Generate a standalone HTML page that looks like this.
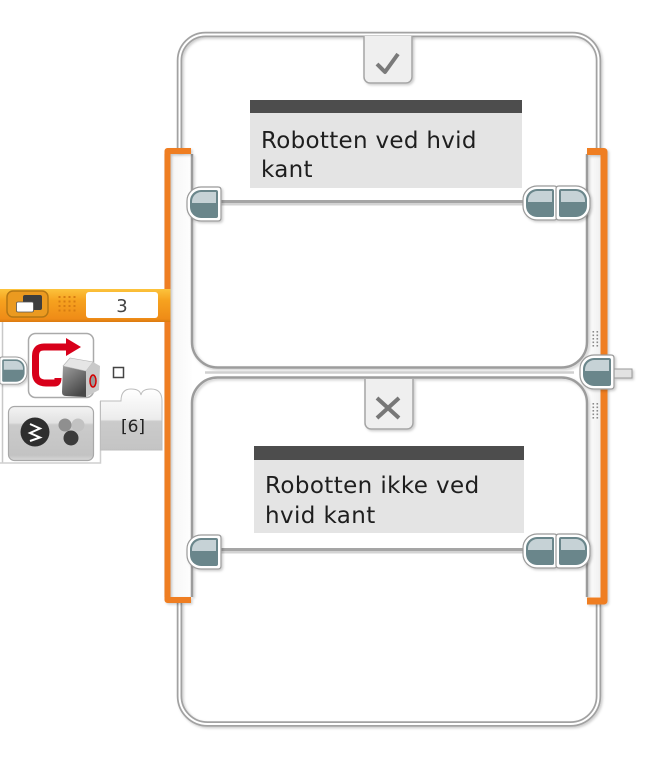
<!DOCTYPE html>
<html><head><meta charset="utf-8">
<style>
html,body{margin:0;padding:0;background:#fff;}
svg{display:block;}
text{font-family:"DejaVu Sans","Liberation Sans",sans-serif;}
</style></head><body>
<svg width="664" height="776" viewBox="0 0 664 776" xmlns="http://www.w3.org/2000/svg">
<defs>
 <filter id="ds" x="-20%" y="-20%" width="140%" height="140%"><feDropShadow dx="1.5" dy="1.5" stdDeviation="1.2" flood-color="#000" flood-opacity="0.2"/></filter>
 <linearGradient id="colL" x1="0" x2="1" y1="0" y2="0"><stop offset="0" stop-color="#f3f3f3"/><stop offset="1" stop-color="#fefefe"/></linearGradient>
 <linearGradient id="colR" x1="0" x2="1" y1="0" y2="0"><stop offset="0" stop-color="#fefefe"/><stop offset="1" stop-color="#f0f0f0"/></linearGradient>
 <linearGradient id="hdr" x1="0" x2="0" y1="0" y2="1"><stop offset="0" stop-color="#fcc33c"/><stop offset="0.35" stop-color="#f6a21f"/><stop offset="0.9" stop-color="#ef8c17"/><stop offset="1" stop-color="#db7a10"/></linearGradient>
 <linearGradient id="tabg" x1="0" x2="0" y1="0" y2="1"><stop offset="0" stop-color="#ffffff"/><stop offset="0.5" stop-color="#ececec"/><stop offset="0.53" stop-color="#cbcbcb"/><stop offset="1" stop-color="#c4c4c4"/></linearGradient>
 <linearGradient id="modeg" x1="0" x2="0" y1="0" y2="1"><stop offset="0" stop-color="#f3f3f3"/><stop offset="0.3" stop-color="#e2e2e2"/><stop offset="0.34" stop-color="#cbcbcb"/><stop offset="0.9" stop-color="#c3c3c3"/><stop offset="1" stop-color="#d8d8d8"/></linearGradient>
 <linearGradient id="sens" x1="0" x2="0.6" y1="0" y2="1"><stop offset="0" stop-color="#a0a0a0"/><stop offset="1" stop-color="#474747"/></linearGradient>
 <g id="plugL">
  <path d="M14,0 H31 Q34,0 34,3 V31 Q34,34 31,34 H14 A14,14 0 0 1 0,20 V14 A14,14 0 0 1 14,0 Z" fill="#fff" stroke="#9a9a9a" stroke-width="1.2"/>
  <path d="M14,3 H29 Q31,3 31,5 V29 Q31,31 29,31 H14 A11,11 0 0 1 3,20 V14 A11,11 0 0 1 14,3 Z" fill="#6b868b"/>
  <path d="M5,16 V14.5 A9.5,9.5 0 0 1 14.5,5 H29 V16 Z" fill="#c6d2d6"/>
 </g>
</defs>

<!-- bracket columns -->
<rect x="164" y="154" width="28" height="443" fill="url(#colL)"/>
<rect x="587" y="154" width="14" height="443" fill="url(#colR)"/>

<!-- outer frame -->
<g filter="url(#ds)">
 <path d="M179.5,152 V60.5 A26,26 0 0 1 205.5,34.5 H572.5 A26,26 0 0 1 598.5,60.5 V152" fill="none" stroke="#a2a2a2" stroke-width="5.5"/>
 <path d="M179.5,152 V60.5 A26,26 0 0 1 205.5,34.5 H572.5 A26,26 0 0 1 598.5,60.5 V152" fill="none" stroke="#fff" stroke-width="2"/>
 <path d="M179.5,602 V696 A28,28 0 0 0 207.5,724 H570.5 A28,28 0 0 0 598.5,696 V604" fill="none" stroke="#a2a2a2" stroke-width="5.5"/>
 <path d="M179.5,602 V696 A28,28 0 0 0 207.5,724 H570.5 A28,28 0 0 0 598.5,696 V604" fill="none" stroke="#fff" stroke-width="2"/>
</g>

<!-- inner case borders -->
<g filter="url(#ds)">
 <path d="M192,154 V342 A25.5,25.5 0 0 0 217.5,367.5 H561.5 A25.5,25.5 0 0 0 587,342 V154" fill="none" stroke="#9c9c9c" stroke-width="2.5"/>
 <path d="M192,597 V403 A25.5,25.5 0 0 1 217.5,377.5 H561.5 A25.5,25.5 0 0 1 587,403 V597" fill="none" stroke="#9c9c9c" stroke-width="2.5"/>
</g>
<path d="M205,372.5 H574" stroke="#d0d0d0" stroke-width="2.5"/>

<!-- sequence lines -->
<rect x="218" y="200" width="308" height="3" fill="#a5a5a5"/>
<rect x="218" y="203" width="308" height="2.5" fill="#d3d3d3"/>
<rect x="218" y="548" width="308" height="3" fill="#a5a5a5"/>
<rect x="218" y="551" width="308" height="2.5" fill="#d3d3d3"/>

<!-- tabs -->
<g filter="url(#ds)">
 <path d="M364,36 V77 A6,6 0 0 0 370,83 H406 A6,6 0 0 0 412,77 V36" fill="#efefef" stroke="#a5a5a5" stroke-width="1.5"/>
 <path d="M365,379 V423 A6,6 0 0 0 371,429 H407 A6,6 0 0 0 413,423 V379" fill="#efefef" stroke="#a5a5a5" stroke-width="1.5"/>
</g>
<path d="M377,64 L385,72 L398,54" fill="none" stroke="#7a7a7a" stroke-width="4" stroke-linejoin="round"/>
<path d="M377,398 L399,418 M399,398 L377,418" fill="none" stroke="#777" stroke-width="4"/>

<!-- comments -->
<rect x="250" y="100" width="272" height="13" fill="#4d4d4d"/>
<rect x="250" y="113" width="272" height="75" fill="#e4e4e4"/>
<text x="261" y="148" font-size="23" letter-spacing="0.3" fill="#1e1e1e">Robotten ved hvid</text>
<text x="261" y="177" font-size="23" letter-spacing="0.3" fill="#1e1e1e">kant</text>

<rect x="254" y="446" width="270" height="14" fill="#4d4d4d"/>
<rect x="254" y="460" width="270" height="73" fill="#e4e4e4"/>
<text x="265" y="493" font-size="23" letter-spacing="0.4" fill="#1e1e1e">Robotten ikke ved</text>
<text x="265" y="523" font-size="23" letter-spacing="0.4" fill="#1e1e1e">hvid kant</text>

<!-- orange brackets -->
<g filter="url(#ds)">
 <path d="M191,151 H167.5 V600 H191" fill="none" stroke="#ef7e22" stroke-width="6" stroke-linejoin="round"/>
 <path d="M587,151.5 H604 V601 H587" fill="none" stroke="#ef7e22" stroke-width="7" stroke-linejoin="round"/>
</g>

<!-- grip dots -->
<g fill="#8a8a8a">
 <rect x="592.5" y="331" width="1.6" height="1.6"/><rect x="596.5" y="331" width="1.6" height="1.6"/>
 <rect x="592.5" y="334.5" width="1.6" height="1.6"/><rect x="596.5" y="334.5" width="1.6" height="1.6"/>
 <rect x="592.5" y="338" width="1.6" height="1.6"/><rect x="596.5" y="338" width="1.6" height="1.6"/>
 <rect x="592.5" y="341.5" width="1.6" height="1.6"/><rect x="596.5" y="341.5" width="1.6" height="1.6"/>
 <rect x="592.5" y="345" width="1.6" height="1.6"/><rect x="596.5" y="345" width="1.6" height="1.6"/>
 <rect x="592.5" y="403" width="1.6" height="1.6"/><rect x="596.5" y="403" width="1.6" height="1.6"/>
 <rect x="592.5" y="406.5" width="1.6" height="1.6"/><rect x="596.5" y="406.5" width="1.6" height="1.6"/>
 <rect x="592.5" y="410" width="1.6" height="1.6"/><rect x="596.5" y="410" width="1.6" height="1.6"/>
 <rect x="592.5" y="413.5" width="1.6" height="1.6"/><rect x="596.5" y="413.5" width="1.6" height="1.6"/>
 <rect x="592.5" y="417" width="1.6" height="1.6"/><rect x="596.5" y="417" width="1.6" height="1.6"/>
</g>

<!-- plugs -->
<g filter="url(#ds)">
 <use href="#plugL" x="187" y="187"/>
 <use href="#plugL" x="523" y="186"/>
 <use href="#plugL" transform="translate(590,186) scale(-1,1)"/>
 <use href="#plugL" x="187" y="535"/>
 <use href="#plugL" x="523" y="534"/>
 <use href="#plugL" transform="translate(590,534) scale(-1,1)"/>
 <rect x="612" y="369" width="20" height="9" fill="#e2e2e2" stroke="#9a9a9a" stroke-width="1"/>
 <use href="#plugL" x="580" y="355"/>
</g>

<!-- left block -->
<rect x="0" y="322" width="164" height="131" fill="#fff"/>
<path d="M0,289 H170.5 V322 H0 Z" fill="url(#hdr)"/>
<line x1="2.5" y1="322" x2="2.5" y2="463" stroke="#c8c8c8" stroke-width="1.5"/>
<path d="M0,463 H100.5 V401" fill="none" stroke="#cfcfcf" stroke-width="1.5"/>

<!-- header contents -->
<rect x="7" y="291" width="41" height="26" rx="6" fill="#eb9a20" stroke="#b47714" stroke-width="1.5"/>
<rect x="23" y="295" width="19" height="15" rx="2" fill="#3d3d3d"/>
<rect x="16.5" y="302" width="17" height="10" rx="1.5" fill="#fff" stroke="#555" stroke-width="0.8"/>
<g fill="#d67c12">
 <rect x="58.5" y="296" width="2" height="2"/><rect x="63.5" y="296" width="2" height="2"/><rect x="68.5" y="296" width="2" height="2"/><rect x="73.5" y="296" width="2" height="2"/>
 <rect x="58.5" y="300.5" width="2" height="2"/><rect x="63.5" y="300.5" width="2" height="2"/><rect x="68.5" y="300.5" width="2" height="2"/><rect x="73.5" y="300.5" width="2" height="2"/>
 <rect x="58.5" y="305" width="2" height="2"/><rect x="63.5" y="305" width="2" height="2"/><rect x="68.5" y="305" width="2" height="2"/><rect x="73.5" y="305" width="2" height="2"/>
 <rect x="58.5" y="309.5" width="2" height="2"/><rect x="63.5" y="309.5" width="2" height="2"/><rect x="68.5" y="309.5" width="2" height="2"/><rect x="73.5" y="309.5" width="2" height="2"/>
</g>
<rect x="86" y="292" width="72" height="26" rx="3" fill="#fff"/>
<text x="122" y="312" font-size="18" text-anchor="middle" fill="#444">3</text>

<!-- left block plug -->
<g filter="url(#ds)">
 <use href="#plugL" transform="translate(27,357) scale(-0.8,0.8)"/>
</g>

<!-- switch icon -->
<rect x="28.5" y="333.5" width="65" height="64" rx="7" fill="#fff" stroke="#aaa" stroke-width="1.5"/>
<path d="M67,347 H44 Q35.5,347 35.5,356 V373 Q35.5,383 46,383 H55 Q58,383 58,378" fill="none" stroke="#d8001a" stroke-width="7"/>
<polygon points="66,338 81,347 66,356" fill="#d8001a"/>
<path d="M63,366 L86,371 L86,397 L66,396 Q62,396 62,392 Z" fill="url(#sens)"/>
<path d="M63,366 L70,358 L93,362 L86,371 Z" fill="#e6e6e6" stroke="#b5b5b5" stroke-width="0.6"/>
<path d="M86,371 L93,362 L100,366 L99,390 L86,397 Z" fill="#c9c9c9"/>
<ellipse cx="93" cy="381" rx="3" ry="6" fill="#9a9a9a" stroke="#d40000" stroke-width="1.5"/>

<rect x="113.5" y="367.5" width="10" height="10" fill="#fff" stroke="#444" stroke-width="1.5"/>

<!-- tab [6] -->
<path d="M100.5,450 V401 H121 Q121,389 131,389 Q140,389 141,395 Q142,389 151,389 Q162,389 162,401 V450 Z" fill="url(#tabg)" stroke="#bdbdbd" stroke-width="1"/>
<text x="133" y="432" font-size="17" text-anchor="middle" fill="#222">[6]</text>

<!-- mode box -->
<rect x="8.5" y="406.5" width="85" height="54" rx="6" fill="url(#modeg)" stroke="#a8a8a8" stroke-width="1.2"/>
<circle cx="35" cy="432" r="14.5" fill="#2e2e2e"/>
<polyline points="30,424 40,428.5 30,433 40,437.5 30,441" fill="none" stroke="#fff" stroke-width="2"/>
<circle cx="65" cy="425" r="6.5" fill="#8f8f8f"/>
<circle cx="78" cy="425" r="6.5" fill="#c2c2c2"/>
<circle cx="71" cy="438" r="7.5" fill="#3b3b3b"/>
</svg>
</body></html>
